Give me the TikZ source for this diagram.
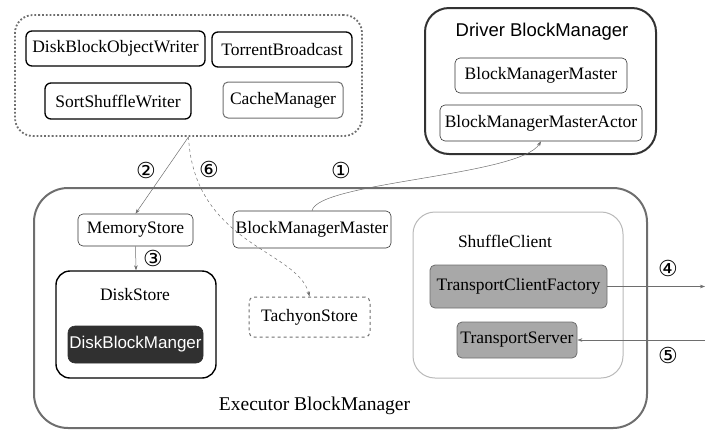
\documentclass[tikz,border=0pt]{standalone}
\usepackage{fontspec}
\setmainfont{Liberation Serif}
\newfontfamily\sansf{Liberation Sans}
\newfontfamily\symf{DejaVu Sans}
\usepackage{tikz}
\usetikzlibrary{arrows.meta}
\definecolor{edgegray}{RGB}{110,110,110}
\definecolor{darkedge}{RGB}{50,50,50}
\definecolor{lightedge}{RGB}{185,185,185}
\definecolor{boxgray}{RGB}{168,168,168}
\definecolor{darkfill}{RGB}{48,48,48}

\begin{document}
\begin{tikzpicture}[x=1pt, y=-1pt,
    font=\fontsize{17.5}{20}\selectfont,
    box/.style={draw=black!80, line width=0.6pt, rounded corners=5pt, inner sep=0pt},
    taskbox/.style={draw=black, line width=1.3pt, rounded corners=6pt, inner sep=0pt},
    greybox/.style={box, draw=edgegray, fill=boxgray, line width=0.8pt},
    digit/.style={font=\symf\fontsize{22}{24}\selectfont},
    link/.style={draw=edgegray, line width=0.5pt, -{Stealth[length=5pt, width=3.5pt]}}]
\useasboundingbox (0,0) rectangle (722,440);
% Tasks that use the block manager
\node[draw=edgegray, dotted, line width=1.8pt, rounded corners=18pt,
      minimum width=347, minimum height=121] (tasks) at (188.5,75.5) {};
\node[taskbox, minimum width=179, minimum height=35] (dbow) at (115.5,48.5) {DiskBlockObjectWriter};
\node[taskbox, minimum width=140, minimum height=35] (tb) at (282,49.5) {TorrentBroadcast};
\node[taskbox, minimum width=146, minimum height=36] (ssw) at (118,101) {SortShuffleWriter};
\node[box, draw=edgegray, line width=1pt, minimum width=120, minimum height=36] (cm) at (283,100) {CacheManager};
% Driver side
\node[draw=darkedge, line width=2pt, rounded corners=24pt,
      minimum width=231, minimum height=146] (driver) at (540.5,81) {};
\node[font=\sansf\fontsize{18.5}{21}\selectfont] (driverlbl) at (542,32) {Driver BlockManager};
\node[box, minimum width=172, minimum height=35] (bmm) at (541,75.5) {BlockManagerMaster};
\node[box, minimum width=202, minimum height=36] (bmma) at (541,123) {BlockManagerMasterActor};
% Executor side
\node[draw=edgegray, line width=2pt, rounded corners=34pt,
      minimum width=613, minimum height=240] (executor) at (340.5,308) {};
\node[font=\fontsize{19.5}{22}\selectfont] (execlbl) at (314.5,406) {Executor BlockManager};
\node[box, minimum width=115, minimum height=32] (ms) at (135.5,230) {MemoryStore};
\node[draw=black, line width=1.4pt, rounded corners=14pt,
      minimum width=160, minimum height=107] (ds) at (136,324.5) {};
\node (dslbl) at (135,295) {DiskStore};
\node[box, draw=darkfill, fill=darkfill, rounded corners=7pt, text=white,
      font=\sansf\fontsize{17}{19}\selectfont,
      minimum width=135, minimum height=37] (dbm) at (135.5,344.5) {DiskBlockManger};
\node[box, draw=edgegray, dashed, line width=1pt, minimum width=121, minimum height=40] (ts) at (309.5,317) {TachyonStore};
\node[box, minimum width=158, minimum height=37] (ebmm) at (312,229.5) {BlockManagerMaster};
\node[draw=lightedge, line width=1pt, rounded corners=22pt,
      minimum width=210, minimum height=166] (sc) at (518,295) {};
\node (sclbl) at (505,241) {ShuffleClient};
\node[greybox, minimum width=177, minimum height=43] (tcf) at (518.5,286.5) {TransportClientFactory};
\node[greybox, minimum width=120, minimum height=36] (tsrv) at (517,340) {TransportServer};
% Outside ends
\coordinate (outfour) at (705,286.5);
\coordinate (infive) at (705,340);
% Connectors
\draw[link] (ebmm.north) .. controls (318,182) and (520,176) .. (bmma.south);
\draw[link] (tasks.south) -- (ms.north);
\draw[link, dashed] (tasks.south) .. controls (194,245) and (298,250) .. (ts.north);
\draw[link] (ms.south) -- (ds.north);
\draw[link] (tcf.east) -- (outfour);
\draw[link] (infive) -- (tsrv.east);
% Step numbers
\node[digit] (n1) at (341,170) {①};
\node[digit] (n2) at (146,170) {②};
\node[digit] (n3) at (153,258) {③};
\node[digit] (n4) at (668,268) {④};
\node[digit] (n5) at (668,355) {⑤};
\node[digit] (n6) at (209,169) {⑥};
\end{tikzpicture}
\end{document}
